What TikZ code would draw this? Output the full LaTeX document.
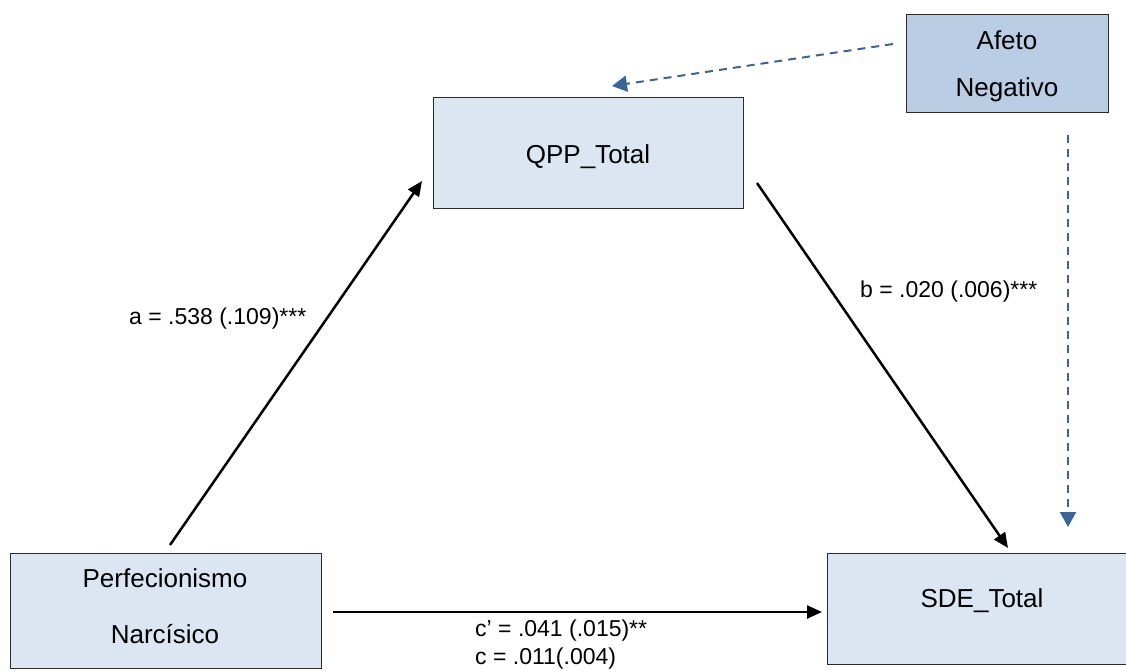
\documentclass[tikz,border=0pt]{standalone}
\usepackage{fontspec}
\setmainfont{Liberation Sans}
\usetikzlibrary{arrows.meta}
\definecolor{boxfill}{HTML}{DCE6F2}
\definecolor{moderfill}{HTML}{B9CDE5}
\definecolor{dashblue}{HTML}{3A6697}
\definecolor{boxline}{HTML}{2B2B2B}
\begin{document}
\begin{tikzpicture}[x=1pt,y=-1pt,
  varbox/.style={draw=boxline, line width=1.3pt, fill=boxfill, inner sep=0pt, anchor=north west},
  boxtext/.style={font=\fontsize{26}{30}\selectfont, inner sep=0pt, anchor=base},
  coef/.style={font=\fontsize{23}{27}\selectfont, inner sep=0pt, anchor=base west},
  effect/.style={line width=2.5pt, -{Triangle[length=15pt,width=13pt]}},
  moderation/.style={draw=dashblue, line width=2pt, dash pattern=on 8pt off 6pt,
    -{Triangle[length=15pt,width=16pt,fill=dashblue]}}
]
\useasboundingbox (0,0) rectangle (1126,671);

% variable boxes (the outcome box runs past the right edge of the page)
\node[varbox, minimum width=311pt, minimum height=115pt] (perf) at (10,553) {};
\node[varbox, minimum width=310pt, minimum height=111pt] (qpp) at (433,97) {};
\node[varbox, fill=moderfill, minimum width=202pt, minimum height=98pt] (afeto) at (906,14) {};
\node[varbox, minimum width=360pt, minimum height=111pt] (sde) at (827,553) {};

% box captions
\node[boxtext] (afetoA) at (1007,50) {Afeto};
\node[boxtext] (afetoB) at (1007,97) {Negativo};
\node[boxtext] (qppT) at (588,164) {QPP\_Total};
\node[boxtext] (perfA) at (165,587) {Perfecionismo};
\node[boxtext] (perfB) at (165,643) {Narcísico};
\node[boxtext] (sdeT) at (982,607) {SDE\_Total};

% connector end points
\coordinate (aS) at (170,545);
\coordinate (aE) at (422,181);
\coordinate (bS) at (757,183);
\coordinate (bE) at (1008,548);
\coordinate (cS) at (333,612);
\coordinate (cE) at (822,612);
\coordinate (m1S) at (893,44);
\coordinate (m1E) at (612,86);
\coordinate (m2S) at (1068,135);
\coordinate (m2E) at (1068,527);

% mediation paths
\draw[effect] (aS) -- (aE);
\draw[effect] (bS) -- (bE);
\draw[effect] (cS) -- (cE);

% moderation paths
\draw[moderation] (m1S) -- (m1E);
\draw[moderation] (m2S) -- (m2E);

% coefficients
\node[coef] (aLab) at (129,324) {a = .538 (.109)***};
\node[coef] (bLab) at (860,297) {b = .020 (.006)***};
\node[coef] (cpLab) at (475,636) {c’ = .041 (.015)**};
\node[coef] (cLab) at (475,664) {c = .011(.004)};
\end{tikzpicture}
\end{document}
